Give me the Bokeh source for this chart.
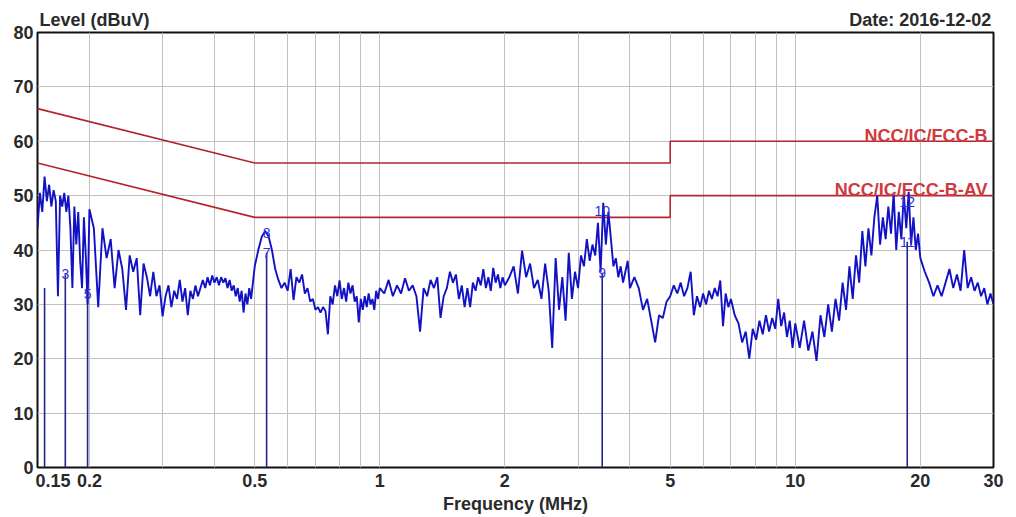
from bokeh.plotting import figure
from bokeh.models import Range1d, FixedTicker, Label, LogAxis
from bokeh.embed import file_html
from bokeh.resources import INLINE
from bokeh.core.properties import value

# ---------------- data ----------------
freq_a = [0.150, 0.152, 0.154, 0.156, 0.158, 0.160, 0.162, 0.164, 0.166, 0.168,
          0.170, 0.172, 0.174, 0.176, 0.178, 0.180, 0.182, 0.184, 0.186, 0.188,
          0.190, 0.192, 0.194, 0.196, 0.198, 0.200]
level_a = [44.0, 50.5, 47.0, 53.5, 49.0, 52.0, 48.0, 51.0, 49.0, 31.5,
           50.0, 48.0, 50.5, 47.0, 50.0, 44.0, 33.0, 48.0, 41.0, 47.0,
           38.0, 33.0, 46.0, 39.0, 30.0, 47.5]

freq_b = [0.205, 0.210, 0.215, 0.220, 0.225, 0.230, 0.235, 0.240, 0.245, 0.250,
          0.255, 0.260, 0.265, 0.270, 0.275, 0.280, 0.285, 0.290, 0.295, 0.300]
level_b = [44.0, 29.5, 44.0, 38.5, 42.0, 33.0, 40.0, 36.5, 29.0, 39.0,
           36.0, 38.5, 28.0, 37.5, 35.0, 31.5, 36.0, 31.5, 33.5, 27.8]

freq_c = [0.305, 0.310, 0.315, 0.320, 0.325, 0.330, 0.335, 0.340, 0.345, 0.350,
          0.355, 0.360, 0.365, 0.370, 0.375, 0.380, 0.385, 0.390, 0.395, 0.400,
          0.405, 0.410, 0.415, 0.420, 0.425, 0.430, 0.435, 0.440, 0.445, 0.450,
          0.455, 0.460, 0.465, 0.470, 0.475, 0.480, 0.485, 0.490, 0.495, 0.500]
level_c = [31.5, 33.5, 29.5, 32.5, 31.0, 34.5, 30.5, 33.0, 28.0, 32.5,
           31.0, 33.5, 31.5, 33.0, 34.5, 33.0, 35.0, 33.5, 35.3, 34.0,
           35.0, 33.5, 35.0, 34.0, 34.8, 33.0, 34.5, 32.5, 33.5, 31.5,
           33.0, 30.5, 32.5, 28.5, 32.0, 30.0, 33.0, 31.0, 34.0, 37.0]

freq_d = [0.51, 0.52, 0.53, 0.54, 0.55, 0.56, 0.57, 0.58, 0.59, 0.60,
          0.61, 0.62, 0.63, 0.64, 0.65, 0.66, 0.67, 0.68, 0.69, 0.70,
          0.71, 0.72, 0.73, 0.74, 0.75, 0.76, 0.77, 0.78, 0.79, 0.80,
          0.81, 0.82, 0.83, 0.84, 0.85, 0.86, 0.87, 0.88, 0.89, 0.90,
          0.91, 0.92, 0.93, 0.94, 0.95, 0.96, 0.97, 0.98, 0.99, 1.00]
level_d = [40.0, 42.5, 43.5, 42.5, 40.0, 36.5, 34.5, 33.0, 34.0, 32.5,
           36.5, 30.8, 35.0, 34.0, 35.5, 32.0, 33.0, 30.5, 31.0, 29.0,
           29.5, 28.5, 29.5, 28.8, 24.5, 31.5, 30.0, 33.5, 31.5, 34.4,
           31.0, 33.0, 30.5, 34.0, 32.0, 33.5, 30.5, 31.5, 26.7, 31.0,
           29.0, 31.5, 29.5, 32.0, 30.0, 31.0, 29.0, 32.5, 31.0, 33.0]

freq_e = [1.025, 1.050, 1.075, 1.100, 1.125, 1.150, 1.175, 1.200, 1.225, 1.250,
          1.275, 1.300, 1.325, 1.350, 1.375, 1.400, 1.425, 1.450, 1.475, 1.500,
          1.525, 1.550, 1.575, 1.600, 1.625, 1.650, 1.675, 1.700, 1.725, 1.750,
          1.775, 1.800, 1.825, 1.850, 1.875, 1.900, 1.925, 1.950, 1.975, 2.000]
level_e = [32.0, 34.5, 31.5, 33.5, 32.0, 34.8, 32.5, 33.5, 31.5, 25.0,
           33.0, 31.5, 34.5, 33.0, 35.0, 27.5, 31.5, 33.0, 36.0, 34.0,
           35.5, 31.0, 33.5, 29.5, 33.0, 29.5, 34.0, 32.5, 35.0, 33.5,
           36.5, 33.0, 35.0, 32.5, 36.7, 34.0, 35.5, 33.0, 35.0, 33.5]

freq_f = [2.05, 2.10, 2.15, 2.20, 2.25, 2.30, 2.35, 2.40, 2.45, 2.50,
          2.55, 2.60, 2.65, 2.70, 2.75, 2.80, 2.85, 2.90, 2.95, 3.00,
          3.05, 3.10, 3.15, 3.20, 3.25, 3.30, 3.35, 3.40, 3.45, 3.50,
          3.55, 3.60, 3.65, 3.70, 3.75, 3.80, 3.85, 3.90, 3.95, 4.00,
          4.1, 4.2, 4.3, 4.4, 4.5, 4.6, 4.7, 4.8, 4.9, 5.0]
level_f = [35.0, 37.0, 32.0, 39.9, 35.0, 37.5, 33.0, 34.5, 31.0, 37.5,
           32.5, 22.0, 38.5, 29.0, 35.0, 27.0, 39.5, 31.0, 36.0, 33.0,
           39.0, 37.0, 42.0, 38.0, 41.0, 39.0, 45.0, 36.0, 48.7, 41.0,
           47.0, 42.0, 37.0, 38.5, 35.0, 37.0, 34.0, 36.0, 38.0, 33.0,
           35.0, 33.0, 29.0, 31.0, 27.0, 23.0, 28.0, 27.5, 30.5, 31.5]

freq_g = [5.1, 5.2, 5.3, 5.4, 5.5, 5.6, 5.7, 5.8, 5.9, 6.0,
          6.1, 6.2, 6.3, 6.4, 6.5, 6.6, 6.7, 6.8, 6.9, 7.0,
          7.15, 7.3, 7.45, 7.6, 7.75, 7.9, 8.05, 8.2, 8.35, 8.5,
          8.65, 8.8, 8.95, 9.1, 9.25, 9.4, 9.55, 9.7, 9.85, 10.0]
level_g = [33.5, 32.0, 34.0, 31.5, 33.0, 36.0, 28.0, 31.5, 29.5, 32.0,
           30.0, 32.5, 31.0, 33.0, 31.5, 34.4, 26.0, 32.0, 29.5, 31.0,
           28.0, 26.5, 23.0, 25.0, 20.0, 25.5, 23.5, 27.0, 24.5, 28.0,
           25.0, 27.5, 25.5, 31.0, 26.0, 28.5, 24.0, 27.0, 22.0, 26.5]

freq_h = [10.25, 10.5, 10.75, 11.0, 11.25, 11.5, 11.75, 12.0, 12.25, 12.5,
          12.75, 13.0, 13.25, 13.5, 13.75, 14.0, 14.25, 14.5, 14.75, 15.0,
          15.25, 15.5, 15.75, 16.0, 16.25, 16.5, 16.75, 17.0, 17.25, 17.5,
          17.75, 18.0, 18.25, 18.5, 18.75, 19.0, 19.25, 19.5, 19.75, 20.0,
          20.5, 21.0, 21.5, 22.0, 22.5, 23.0, 23.5, 24.0, 24.5, 25.0,
          25.5, 26.0, 26.5, 27.0, 27.5, 28.0, 28.5, 29.0, 29.5, 30.0]
level_h = [22.0, 27.0, 21.5, 25.0, 19.6, 28.0, 24.0, 30.0, 25.0, 31.0,
           27.0, 34.0, 29.0, 37.0, 31.0, 39.0, 34.0, 43.5, 37.0, 44.0,
           39.0, 46.0, 50.0, 41.0, 46.0, 42.0, 48.0, 43.0, 50.5, 40.0,
           47.0, 42.0, 50.3, 44.0, 50.7, 41.0, 46.0, 40.0, 43.0, 38.5,
           36.0, 34.0, 31.5, 33.5, 31.5, 34.0, 36.5, 33.0, 35.5, 32.5,
           40.0, 33.0, 35.0, 32.5, 34.0, 31.5, 33.0, 30.0, 32.0, 30.0]

# limit lines (NCC/IC/FCC class B)
limit_freq = [0.15, 0.5, 5.0, 5.0, 30.0]
limit_qp = [66.0, 56.0, 56.0, 60.0, 60.0]
limit_av = [56.0, 46.0, 46.0, 50.0, 50.0]
limit_names = ["NCC/IC/FCC-B", "NCC/IC/FCC-B-AV"]
limit_label_levels = [61.0, 51.1]

# markers
marker_freq = [0.175, 0.198, 0.534, 0.534, 3.43, 3.43, 18.6, 18.6]
marker_level = [35.5, 32.0, 39.5, 43.2, 35.8, 47.2, 41.5, 48.8]
marker_text = ["3", "5", "7", "8", "9", "10", "11", "12"]
marker_line_freq = [0.156, 0.175, 0.198, 0.534, 3.43, 18.6]
marker_line_top = [33.0, 35.5, 32.0, 39.5, 35.8, 41.5]

# axes
x_tick_values = [0.15, 0.2, 0.5, 1, 2, 5, 10, 20, 30]
x_tick_labels = ["0.15", "0.2", "0.5", "1", "2", "5", "10", "20", "30"]
x_grid_values = [0.2, 0.3, 0.4, 0.5, 0.6, 0.7, 0.8, 0.9, 1, 2, 3, 4, 5, 6, 7, 8, 9, 10, 20]
y_tick_values = [0, 10, 20, 30, 40, 50, 60, 70, 80]
y_grid_values = [10, 20, 30, 40, 50, 60, 70]
y_title = "Level (dBuV)"
x_title = "Frequency (MHz)"
date_text = "Date: 2016-12-02"

# ---------------- figure ----------------
FONT = "Liberation Sans"
TXT = "#2a2a2a"
FIRST_LABEL_SHIFT = 1.09      # first x label sits inside the frame, like the original
HEADER_LEFT_AT = 0.2058       # header texts are placed above the frame (screen placement)
HEADER_RIGHT_AT = 20.0

p = figure(width=1016, height=517, x_axis_type="log",
           x_range=Range1d(0.15, 30), y_range=Range1d(0, 80),
           output_backend="svg", toolbar_location=None,
           min_border_left=37, min_border_right=23,
           min_border_top=32, min_border_bottom=50)
p.background_fill_color = "white"
p.border_fill_color = "white"
p.outline_line_color = "#111111"
p.outline_line_width = 2

xa = p.xaxis[0]
label_pos = [x_tick_values[0] * FIRST_LABEL_SHIFT] + x_tick_values[1:]
xa.ticker = FixedTicker(ticks=label_pos, minor_ticks=[])
xa.major_label_overrides = {v: s for v, s in zip(label_pos, x_tick_labels)}
xa.axis_label = x_title
ya = p.yaxis[0]
ya.ticker = FixedTicker(ticks=y_tick_values, minor_ticks=[])

top = LogAxis(ticker=FixedTicker(ticks=[HEADER_LEFT_AT, HEADER_RIGHT_AT], minor_ticks=[]),
              major_label_overrides={HEADER_LEFT_AT: y_title, HEADER_RIGHT_AT: date_text})
p.add_layout(top, "above")

for ax in (xa, ya, top):
    ax.axis_line_color = None
    ax.major_tick_line_color = None
    ax.minor_tick_line_color = None
    ax.major_tick_out = 0
    ax.major_tick_in = 0
    ax.minor_tick_out = 0
    ax.minor_tick_in = 0
    ax.major_label_text_font = FONT
    ax.major_label_text_font_size = "18px"
    ax.major_label_text_font_style = "bold"
    ax.major_label_text_color = TXT
xa.major_label_standoff = 6
ya.major_label_standoff = 4
top.major_label_standoff = 3
xa.axis_label_standoff = 4
xa.axis_label_text_font = FONT
xa.axis_label_text_font_size = "18px"
xa.axis_label_text_font_style = "bold"
xa.axis_label_text_color = TXT

p.xgrid.ticker = FixedTicker(ticks=x_grid_values)
p.ygrid.ticker = FixedTicker(ticks=y_grid_values)
p.xgrid.grid_line_color = "#c2c2c2"
p.ygrid.grid_line_color = "#c2c2c2"
p.xgrid.grid_line_width = 1
p.ygrid.grid_line_width = 1

# limit lines
p.line(limit_freq, limit_qp, line_color="#b3262c", line_width=1.6)
p.line(limit_freq, limit_av, line_color="#b3262c", line_width=1.6)

# marker lines
p.segment(x0=marker_line_freq, y0=[0] * len(marker_line_freq),
          x1=marker_line_freq, y1=marker_line_top,
          line_color="#24248a", line_width=1.6)

# trace
trace_freq = freq_a + freq_b + freq_c + freq_d + freq_e + freq_f + freq_g + freq_h
trace_level = level_a + level_b + level_c + level_d + level_e + level_f + level_g + level_h
p.line(trace_freq, trace_level, line_color="#1212c4", line_width=1.9)

# marker labels
p.text(x=marker_freq, y=marker_level, text=marker_text,
       text_align="center", text_baseline="middle",
       text_font=value(FONT), text_font_size=value("14px"),
       text_color="#2f2fd8")

# limit labels (inside the frame)
for name, lv in zip(limit_names, limit_label_levels):
    p.add_layout(Label(x=30, y=lv, x_offset=-6, text=name, text_align="right",
                       text_baseline="alphabetic", text_font=FONT,
                       text_font_size="18px", text_font_style="bold",
                       text_color="#cf3a3f"))

open("out.html", "w").write(file_html(p, INLINE))
